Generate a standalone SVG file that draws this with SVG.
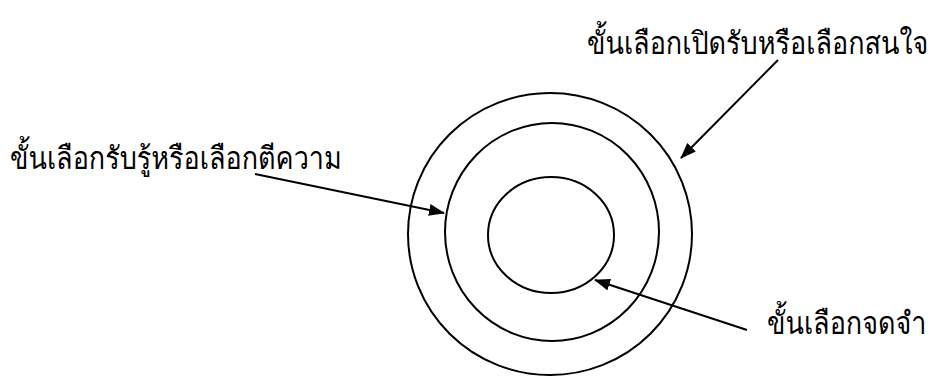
<svg xmlns="http://www.w3.org/2000/svg" width="931" height="378" viewBox="0 0 931 378">
<style>
.ring{fill:none;stroke:#000;stroke-width:2}
.conn{stroke:#000;stroke-width:2;fill:none}
.lbl{font-family:"Loma","Garuda","Noto Sans Thai","Liberation Sans","DejaVu Sans",sans-serif;font-size:27px;font-weight:300;fill:#000}
</style>
<defs>
<marker id="ah" markerWidth="16" markerHeight="12" refX="15" refY="6" orient="auto" markerUnits="userSpaceOnUse">
<path d="M0,0 L16,6 L0,12 Z" fill="#000"/>
</marker>
</defs>
<rect width="931" height="378" fill="#fff"/>
<g id="outer-ring"><ellipse class="ring" cx="550" cy="234" rx="142" ry="141"/></g>
<g id="middle-ring"><ellipse class="ring" cx="552" cy="232" rx="107" ry="109"/></g>
<g id="inner-ring"><ellipse class="ring" cx="551" cy="235" rx="63" ry="58"/></g>
<g id="label-open"><text class="lbl" transform="translate(587,54) scale(1,1.15)">ขั้นเลือกเปิดรับหรือเลือกสนใจ</text></g>
<g id="label-perceive"><text class="lbl" transform="translate(10,169) scale(1,1.15)">ขั้นเลือกรับรู้หรือเลือกตีความ</text></g>
<g id="label-remember"><text class="lbl" transform="translate(767,334) scale(1,1.15)">ขั้นเลือกจดจำ</text></g>
<g id="connectors">
<line class="conn" x1="778" y1="60" x2="681" y2="158" marker-end="url(#ah)"/>
<line class="conn" x1="255" y1="174" x2="444" y2="213" marker-end="url(#ah)"/>
<line class="conn" x1="747" y1="330" x2="595" y2="280" marker-end="url(#ah)"/>
</g>
</svg>
